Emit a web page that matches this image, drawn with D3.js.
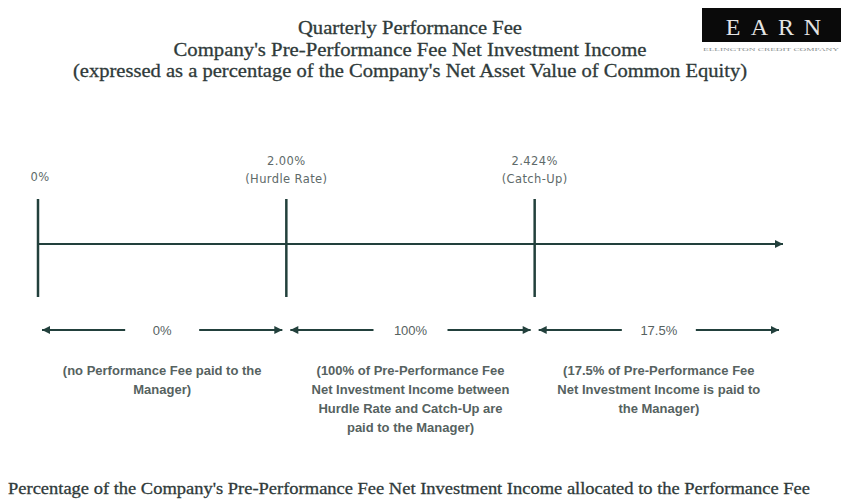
<!DOCTYPE html>
<html>
<head>
<meta charset="utf-8">
<script src="https://cdn.jsdelivr.net/npm/d3@7"></script>
<style>
  body { margin: 0; background: #fff; }
  .serif { font-family: "Liberation Serif", "DejaVu Serif", serif; fill: #2f3a3a; stroke: #2f3a3a; stroke-width: 0.3; }
  .note { font-family: "Liberation Sans", Arial, sans-serif; font-weight: bold; fill: #56625f; }
  .rate { font-family: "Liberation Sans", Arial, sans-serif; fill: #56625f; }
  .mark { font-family: "DejaVu Sans", sans-serif; fill: #5e6a69; }
</style>
</head>
<body>
<div class="canvas"></div>
<script>
// chart data
const titleLines = [
    "Quarterly Performance Fee",
    "Company's Pre-Performance Fee Net Investment Income",
    "(expressed as a percentage of the Company's Net Asset Value of Common Equity)"
]
const markers = ["0%", "2.00%", "2.424%"]
const markerNotes = ["", "(Hurdle Rate)", "(Catch-Up)"]
const bandRates = ["0%", "100%", "17.5%"]
const bandNotes = [
    ["(no Performance Fee paid to the", "Manager)"],
    ["(100% of Pre-Performance Fee", "Net Investment Income between", "Hurdle Rate and Catch-Up are", "paid to the Manager)"],
    ["(17.5% of Pre-Performance Fee", "Net Investment Income is paid to", "the Manager)"]
]
const footer = "Percentage of the Company's Pre-Performance Fee Net Investment Income allocated to the Performance Fee"

/**
 * Dimension setup
 */
const dims = { width: 843, height: 504 }
const lineColor = "#22403c"

const svg = d3.select(".canvas")
    .append("svg")
    .attr("width", dims.width)
    .attr("height", dims.height)

const defs = svg.append("defs")
defs.append("marker")
    .attr("id", "head")
    .attr("viewBox", "0 0 10 10")
    .attr("refX", 10)
    .attr("refY", 5)
    .attr("markerWidth", 10)
    .attr("markerHeight", 8)
    .attr("markerUnits", "userSpaceOnUse")
    .attr("orient", "auto-start-reverse")
    .append("path")
    .attr("d", "M0,0L10,5L0,10Z")
    .attr("fill", lineColor)

// point scale for the (schematic, evenly spaced) fee thresholds
const x = d3.scalePoint()
    .domain([...markers, "end"])
    .range([38, 783])

/**
 * Titles
 */
const titleWidths = [224, 473, 674]
svg.append("g").selectAll("text")
    .data(titleLines)
    .join("text")
    .attr("class", "serif")
    .attr("x", 410)
    .attr("y", (d, i) => [34, 56, 77][i])
    .attr("text-anchor", "middle")
    .attr("font-size", 19)
    .attr("textLength", (d, i) => titleWidths[i])
    .attr("lengthAdjust", "spacingAndGlyphs")
    .text(d => d)

// logo
const logo = svg.append("g")
logo.append("rect")
    .attr("x", 702).attr("y", 8)
    .attr("width", 139).attr("height", 34)
    .attr("fill", "#0a0a0a")
logo.selectAll("text.l")
    .data(["E", "A", "R", "N"])
    .join("text")
    .attr("class", "l")
    .attr("x", (d, i) => 733 + i * 26.5)
    .attr("y", 35)
    .attr("text-anchor", "middle")
    .attr("font-family", "Liberation Serif, serif")
    .attr("font-size", 24)
    .attr("fill", "#e4e4e4")
    .text(d => d)
logo.append("text")
    .attr("x", 771).attr("y", 51)
    .attr("text-anchor", "middle")
    .attr("font-family", "Liberation Serif, serif")
    .attr("font-size", 5)
    .attr("fill", "#8a9090")
    .attr("textLength", 136)
    .attr("lengthAdjust", "spacingAndGlyphs")
    .text("ELLINGTON CREDIT COMPANY")

/**
 * Timeline
 */
const graph = svg.append("g")

graph.append("line")
    .attr("x1", x("0%")).attr("x2", x("end"))
    .attr("y1", 244).attr("y2", 244)
    .attr("stroke", lineColor)
    .attr("stroke-width", 2)
    .attr("marker-end", "url(#head)")

graph.selectAll("line.tick")
    .data(markers)
    .join("line")
    .attr("class", "tick")
    .attr("x1", d => x(d)).attr("x2", d => x(d))
    .attr("y1", 199).attr("y2", 297)
    .attr("stroke", lineColor)
    .attr("stroke-width", 2.5)

graph.selectAll("text.mk")
    .data(markers)
    .join("text")
    .attr("class", "mark mk")
    .attr("x", d => x(d) + (d === "0%" ? 2 : 0))
    .attr("y", (d, i) => i === 0 ? 181 : 165)
    .attr("text-anchor", "middle")
    .attr("font-size", 11.5)
    .attr("letter-spacing", 0.4)
    .text(d => d)

graph.selectAll("text.mn")
    .data(markerNotes)
    .join("text")
    .attr("class", "mark mn")
    .attr("x", (d, i) => x(markers[i]))
    .attr("y", 183)
    .attr("text-anchor", "middle")
    .attr("font-size", 11.5)
    .attr("letter-spacing", 0.4)
    .text(d => d)

/**
 * Allocation bands
 */
const domain = x.domain()
const bands = bandRates.map((rate, i) => ({
    rate,
    notes: bandNotes[i],
    x0: x(domain[i]),
    x1: x(domain[i + 1])
}))

const band = graph.selectAll("g.band")
    .data(bands)
    .join("g")
    .attr("class", "band")

const gap = 37
band.append("line")
    .attr("x1", d => (d.x0 + d.x1) / 2 - gap).attr("x2", d => d.x0 + 4)
    .attr("y1", 330).attr("y2", 330)
    .attr("stroke", lineColor).attr("stroke-width", 2)
    .attr("marker-end", "url(#head)")
band.append("line")
    .attr("x1", d => (d.x0 + d.x1) / 2 + gap).attr("x2", d => d.x1 - 4)
    .attr("y1", 330).attr("y2", 330)
    .attr("stroke", lineColor).attr("stroke-width", 2)
    .attr("marker-end", "url(#head)")

band.append("text")
    .attr("class", "rate")
    .attr("x", d => (d.x0 + d.x1) / 2)
    .attr("y", 335)
    .attr("text-anchor", "middle")
    .attr("font-size", 13)
    .text(d => d.rate)

band.append("text")
    .attr("class", "note")
    .attr("y", 375)
    .attr("text-anchor", "middle")
    .attr("font-size", 13)
    .selectAll("tspan")
    .data(d => d.notes.map(t => ({ t, cx: (d.x0 + d.x1) / 2 })))
    .join("tspan")
    .attr("x", d => d.cx)
    .attr("dy", (d, i) => i === 0 ? 0 : 19)
    .text(d => d.t)

/**
 * Footer
 */
svg.append("text")
    .attr("class", "serif")
    .attr("x", 409)
    .attr("y", 494)
    .attr("text-anchor", "middle")
    .attr("font-size", 17)
    .attr("textLength", 802)
    .attr("lengthAdjust", "spacingAndGlyphs")
    .text(footer)
</script>
</body>
</html>
